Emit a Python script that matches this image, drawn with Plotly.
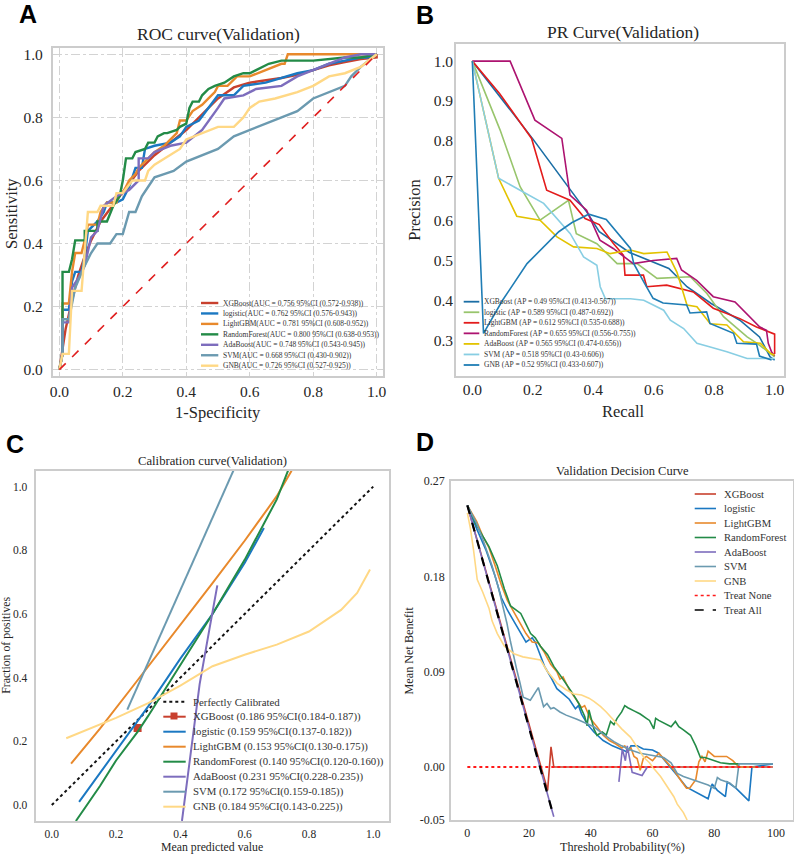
import plotly.graph_objects as go

# ---------------- data ----------------
MODELS = ["XGBoost", "logistic", "LightGBM", "RandomForest", "AdaBoost", "SVM", "GNB"]

# Panel A: ROC curves (validation)
ROC_FPR_XGB = [0, 0.01, 0.02, 0.04, 0.06, 0.08, 0.1, 0.13, 0.16, 0.2, 0.25, 0.3, 0.35, 0.4, 0.45, 0.5, 0.55, 0.6, 0.7, 0.75, 0.8, 0.85, 0.9, 0.95, 1.0, 1.0]
ROC_TPR_XGB = [0, 0.06, 0.13, 0.22, 0.3, 0.36, 0.41, 0.47, 0.51, 0.56, 0.63, 0.68, 0.72, 0.76, 0.81, 0.86, 0.895, 0.91, 0.925, 0.935, 0.95, 0.965, 0.975, 0.985, 0.99, 1.0]
ROC_FPR_LR = [0, 0.01, 0.01, 0.03, 0.04, 0.05, 0.07, 0.08, 0.09, 0.12, 0.14, 0.15, 0.18, 0.2, 0.22, 0.24, 0.26, 0.27, 0.3, 0.35, 0.38, 0.4, 0.44, 0.47, 0.5, 0.55, 0.58, 0.65, 0.72, 0.75, 0.8, 0.85, 0.9, 0.95, 0.97, 1.0]
ROC_TPR_LR = [0, 0.05, 0.19, 0.19, 0.28, 0.31, 0.31, 0.36, 0.44, 0.47, 0.5, 0.53, 0.53, 0.54, 0.58, 0.64, 0.64, 0.7, 0.71, 0.72, 0.74, 0.77, 0.79, 0.83, 0.87, 0.87, 0.9, 0.91, 0.93, 0.94, 0.95, 0.97, 0.98, 0.99, 0.99, 1.0]
ROC_FPR_LGB = [0, 0.01, 0.01, 0.03, 0.04, 0.05, 0.07, 0.08, 0.09, 0.12, 0.13, 0.15, 0.18, 0.19, 0.2, 0.22, 0.24, 0.25, 0.27, 0.3, 0.33, 0.35, 0.37, 0.38, 0.4, 0.42, 0.45, 0.47, 0.49, 0.5, 0.53, 0.56, 0.6, 0.65, 0.7, 0.71, 0.72, 0.9, 1.0]
ROC_TPR_LGB = [0, 0.05, 0.21, 0.21, 0.31, 0.37, 0.37, 0.41, 0.46, 0.46, 0.5, 0.53, 0.53, 0.56, 0.56, 0.6, 0.62, 0.64, 0.66, 0.69, 0.71, 0.73, 0.75, 0.79, 0.79, 0.82, 0.84, 0.86, 0.88, 0.9, 0.9, 0.93, 0.93, 0.95, 0.97, 0.97, 1.0, 1.0, 1.0]
ROC_FPR_RF = [0, 0.01, 0.01, 0.03, 0.04, 0.05, 0.08, 0.08, 0.12, 0.12, 0.15, 0.17, 0.19, 0.2, 0.21, 0.23, 0.24, 0.27, 0.28, 0.3, 0.31, 0.33, 0.34, 0.37, 0.38, 0.4, 0.41, 0.42, 0.44, 0.45, 0.47, 0.49, 0.52, 0.55, 0.58, 0.6, 0.62, 0.66, 0.7, 0.8, 0.9, 0.95, 1.0]
ROC_TPR_RF = [0, 0.05, 0.31, 0.31, 0.35, 0.41, 0.41, 0.44, 0.44, 0.47, 0.47, 0.52, 0.55, 0.6, 0.67, 0.67, 0.69, 0.7, 0.72, 0.72, 0.74, 0.75, 0.75, 0.76, 0.77, 0.78, 0.83, 0.85, 0.85, 0.87, 0.89, 0.9, 0.91, 0.93, 0.94, 0.94, 0.95, 0.97, 0.98, 0.98, 0.99, 0.99, 1.0]
ROC_FPR_ADA = [0, 0.01, 0.01, 0.03, 0.04, 0.06, 0.08, 0.1, 0.12, 0.14, 0.18, 0.22, 0.25, 0.25, 0.28, 0.3, 0.35, 0.4, 0.45, 0.48, 0.5, 0.52, 0.58, 0.62, 0.7, 0.75, 0.8, 0.85, 0.9, 0.95, 1.0]
ROC_TPR_ADA = [0, 0.05, 0.15, 0.15, 0.26, 0.29, 0.33, 0.42, 0.44, 0.52, 0.55, 0.57, 0.6, 0.67, 0.67, 0.69, 0.71, 0.72, 0.76, 0.8, 0.83, 0.86, 0.87, 0.89, 0.9, 0.93, 0.95, 0.97, 0.99, 1.0, 1.0]
ROC_FPR_SVM = [0, 0.01, 0.01, 0.03, 0.05, 0.08, 0.1, 0.12, 0.16, 0.18, 0.2, 0.22, 0.24, 0.26, 0.28, 0.3, 0.33, 0.36, 0.4, 0.45, 0.5, 0.55, 0.6, 0.65, 0.7, 0.75, 0.8, 0.85, 0.9, 0.92, 0.95, 1.0]
ROC_TPR_SVM = [0, 0.05, 0.16, 0.16, 0.26, 0.33, 0.37, 0.4, 0.4, 0.43, 0.43, 0.5, 0.5, 0.55, 0.58, 0.61, 0.62, 0.63, 0.66, 0.68, 0.7, 0.74, 0.76, 0.78, 0.8, 0.82, 0.86, 0.88, 0.9, 0.93, 0.96, 1.0]
ROC_FPR_GNB = [0, 0.01, 0.03, 0.04, 0.07, 0.08, 0.09, 0.12, 0.13, 0.17, 0.18, 0.2, 0.23, 0.27, 0.28, 0.3, 0.35, 0.38, 0.4, 0.45, 0.5, 0.55, 0.58, 0.6, 0.63, 0.68, 0.75, 0.8, 0.85, 0.9, 0.95, 1.0]
ROC_TPR_GNB = [0, 0.05, 0.05, 0.25, 0.25, 0.39, 0.5, 0.5, 0.52, 0.52, 0.56, 0.56, 0.6, 0.6, 0.63, 0.65, 0.68, 0.7, 0.73, 0.75, 0.77, 0.77, 0.8, 0.83, 0.85, 0.86, 0.88, 0.9, 0.93, 0.94, 0.96, 1.0]
CHANCE_X = [0, 1]
CHANCE_Y = [0, 1]
ROC_LABELS = [
    "XGBoost(AUC = 0.756 95%CI (0.572-0.938))",
    "logistic(AUC = 0.762 95%CI (0.576-0.943))",
    "LightGBM(AUC = 0.781 95%CI (0.608-0.952))",
    "RandomForest(AUC = 0.800 95%CI (0.638-0.953))",
    "AdaBoost(AUC = 0.748 95%CI (0.543-0.945))",
    "SVM(AUC = 0.668 95%CI (0.430-0.902))",
    "GNB(AUC = 0.726 95%CI (0.527-0.925))",
]

# Panel B: PR curves (validation)
PR_REC_XGB = [0, 0.2, 0.38, 0.42, 0.52, 0.65, 0.71, 0.79, 0.885, 0.95, 0.985, 1.0]
PR_PREC_XGB = [1.0, 0.805, 0.62, 0.572, 0.52, 0.48, 0.434, 0.392, 0.35, 0.308, 0.258, 0.25]
PR_REC_LR = [0, 0.092, 0.158, 0.224, 0.318, 0.344, 0.412, 0.479, 0.545, 0.611, 0.721, 0.776, 0.831, 0.909, 0.942, 0.986, 1.0]
PR_PREC_LR = [1.0, 0.827, 0.685, 0.601, 0.651, 0.567, 0.542, 0.492, 0.492, 0.455, 0.459, 0.417, 0.359, 0.308, 0.292, 0.267, 0.258]
PR_REC_LGB = [0, 0.09, 0.196, 0.246, 0.323, 0.373, 0.42, 0.466, 0.5, 0.505, 0.566, 0.577, 0.643, 0.731, 0.797, 0.885, 0.94, 0.995, 1.0, 1.0]
PR_PREC_LGB = [1.0, 0.919, 0.806, 0.676, 0.651, 0.605, 0.59, 0.543, 0.513, 0.463, 0.463, 0.434, 0.438, 0.421, 0.38, 0.354, 0.333, 0.317, 0.315, 0.265]
PR_REC_RF = [0, 0.125, 0.207, 0.296, 0.323, 0.378, 0.422, 0.466, 0.532, 0.598, 0.676, 0.692, 0.742, 0.797, 0.869, 0.907, 0.951, 0.973, 0.979, 0.99, 1.0]
PR_PREC_RF = [1.0, 1.0, 0.852, 0.806, 0.664, 0.626, 0.551, 0.53, 0.492, 0.5, 0.505, 0.476, 0.45, 0.409, 0.396, 0.367, 0.333, 0.325, 0.292, 0.27, 0.26]
PR_REC_ADA = [0, 0.087, 0.147, 0.224, 0.28, 0.335, 0.412, 0.456, 0.523, 0.567, 0.644, 0.677, 0.71, 0.743, 0.787, 0.842, 0.897, 0.953, 0.986, 1.0]
PR_PREC_ADA = [1.0, 0.706, 0.611, 0.601, 0.559, 0.534, 0.53, 0.517, 0.526, 0.517, 0.521, 0.47, 0.388, 0.384, 0.341, 0.338, 0.296, 0.292, 0.267, 0.262]
PR_REC_SVM = [0, 0.087, 0.236, 0.324, 0.368, 0.412, 0.423, 0.44, 0.523, 0.567, 0.633, 0.655, 0.699, 0.743, 0.787, 0.842, 0.909, 1.0]
PR_PREC_SVM = [1.0, 0.706, 0.643, 0.567, 0.509, 0.488, 0.434, 0.404, 0.404, 0.4, 0.375, 0.35, 0.329, 0.292, 0.283, 0.271, 0.254, 0.254]
PR_REC_GNB = [0, 0.037, 0.1, 0.181, 0.286, 0.33, 0.385, 0.443, 0.523, 0.534, 0.567, 0.598, 0.631, 0.709, 0.72, 0.775, 0.786, 0.864, 0.875, 0.94, 0.95, 0.99]
PR_PREC_GNB = [1.0, 0.317, 0.4, 0.492, 0.572, 0.595, 0.616, 0.603, 0.53, 0.492, 0.446, 0.405, 0.393, 0.388, 0.368, 0.371, 0.342, 0.317, 0.292, 0.29, 0.26, 0.25]
PR_LABELS = [
    "XGBoost (AP = 0.49 95%CI (0.413-0.567))",
    "logistic (AP = 0.589 95%CI (0.487-0.692))",
    "LightGBM (AP = 0.612 95%CI (0.535-0.688))",
    "RandomForest (AP = 0.655 95%CI (0.556-0.755))",
    "AdaBoost (AP = 0.565 95%CI (0.474-0.656))",
    "SVM (AP = 0.518 95%CI (0.43-0.606))",
    "GNB (AP = 0.52 95%CI (0.433-0.607))",
]

# Panel C: calibration curves (validation)
PERFECT_X = [0, 1]
PERFECT_Y = [0, 1]
CAL_PRED_XGB = [0.267]
CAL_FRAC_XGB = [0.242]
CAL_PRED_LR = [0.085, 0.2, 0.3, 0.4, 0.5, 0.6, 0.66]
CAL_FRAC_LR = [0.01, 0.17, 0.31, 0.46, 0.6, 0.76, 0.87]
CAL_PRED_LGB = [0.06, 0.15, 0.25, 0.35, 0.45, 0.5, 0.6, 0.7, 0.746]
CAL_FRAC_LGB = [0.13, 0.24, 0.37, 0.5, 0.63, 0.697, 0.83, 0.97, 1.05]
CAL_PRED_RF = [0.075, 0.15, 0.2, 0.267, 0.3, 0.4, 0.5, 0.6, 0.7, 0.735]
CAL_FRAC_RF = [-0.05, 0.06, 0.14, 0.23, 0.28, 0.44, 0.6, 0.77, 0.96, 1.05]
CAL_PRED_ADA = [0.405, 0.43, 0.46, 0.49, 0.515]
CAL_FRAC_ADA = [-0.05, 0.15, 0.38, 0.55, 0.69]
CAL_PRED_SVM = [0.235, 0.565]
CAL_FRAC_SVM = [0.3, 1.05]
CAL_PRED_GNB = [0.045, 0.2, 0.3, 0.4, 0.5, 0.6, 0.7, 0.8, 0.9, 0.95, 0.99]
CAL_FRAC_GNB = [0.21, 0.274, 0.32, 0.375, 0.436, 0.472, 0.504, 0.545, 0.613, 0.666, 0.74]
CAL_LABELS = [
    "Perfectly Calibrated",
    "XGBoost (0.186 95%CI(0.184-0.187))",
    "logistic (0.159 95%CI(0.137-0.182))",
    "LightGBM (0.153 95%CI(0.130-0.175))",
    "RandomForest (0.140 95%CI(0.120-0.160))",
    "AdaBoost (0.231 95%CI(0.228-0.235))",
    "SVM (0.172 95%CI(0.159-0.185))",
    "GNB (0.184 95%CI(0.143-0.225))",
]

# Panel D: decision curves (validation), threshold in %
DCA_T_XGB = [0, 26, 27.1, 28, 99]
DCA_NB_XGB = [0.247, -0.022, 0.019, 0.0, 0.0]
DCA_T_LR = [0, 3, 6, 9, 11, 13, 15, 17, 19, 20, 21, 22, 23, 25, 27, 29, 31, 33, 35, 36, 37, 39, 41, 44, 47, 50, 52, 53, 55, 57, 60, 62, 64, 66, 68, 71, 74, 78, 79.3, 81, 83.6, 84.2, 87, 89, 91.2, 92.2, 99]
DCA_NB_LR = [0.247, 0.225, 0.205, 0.18, 0.16, 0.148, 0.138, 0.128, 0.118, 0.12, 0.122, 0.118, 0.11, 0.095, 0.085, 0.074, 0.069, 0.064, 0.055, 0.058, 0.05, 0.04, 0.033, 0.025, 0.02, 0.016, 0.014, 0.02, 0.02, 0.017, 0.016, 0.013, 0.006, 0.0, -0.008, -0.019, -0.024, -0.03, -0.016, -0.022, -0.028, -0.014, -0.02, -0.026, -0.032, 0.0, 0.003]
DCA_T_LGB = [0, 3, 5, 7, 9, 11, 13, 15, 17, 19, 21, 23, 25, 27, 29, 30, 31, 33, 35, 37, 38, 40, 42, 44, 46, 48, 50, 51, 52, 53, 54, 55, 56, 57, 58, 60, 62, 63, 65, 67, 69, 71, 72, 74, 75, 76, 77, 78, 80, 82, 84, 86, 87, 88, 94]
DCA_NB_LGB = [0.247, 0.232, 0.218, 0.207, 0.19, 0.172, 0.157, 0.147, 0.136, 0.126, 0.118, 0.117, 0.108, 0.097, 0.09, 0.083, 0.085, 0.073, 0.065, 0.056, 0.058, 0.045, 0.038, 0.03, 0.025, 0.022, 0.018, 0.02, 0.015, 0.018, 0.01, 0.008, -0.003, 0.008, 0.01, 0.006, 0.013, 0.01, 0.003, -0.003, -0.012, -0.02, -0.02, -0.012, 0.005, 0.01, 0.005, 0.015, 0.01, 0.01, 0.01, 0.006, 0.003, 0.0, 0.0]
DCA_T_RF = [0, 3, 5, 7, 9.7, 12, 14, 16, 17.3, 19, 20.5, 22, 23.7, 26, 28, 30, 32.4, 34, 36.1, 38, 38.8, 39.4, 41, 42, 43.7, 45, 46.4, 47.5, 48.5, 50, 51, 52, 54, 56, 58, 59, 60.4, 61, 62, 64, 66, 67.4, 68.5, 70, 72.3, 74, 75.5, 77, 79.8, 82, 85, 88]
DCA_NB_RF = [0.247, 0.228, 0.218, 0.208, 0.19, 0.168, 0.152, 0.148, 0.145, 0.135, 0.126, 0.122, 0.114, 0.106, 0.095, 0.087, 0.077, 0.07, 0.06, 0.048, 0.039, 0.054, 0.036, 0.03, 0.033, 0.03, 0.043, 0.04, 0.046, 0.052, 0.058, 0.056, 0.053, 0.05, 0.046, 0.044, 0.036, 0.046, 0.044, 0.041, 0.038, 0.043, 0.038, 0.035, 0.03, 0.02, 0.009, 0.009, 0.006, 0.004, 0.003, 0.003]
DCA_T_ADA = [0, 28, None, 49.1, 50.2, 51.2, 51.8, 53.4, 56.6, 58.3]
DCA_NB_ADA = [0.247, -0.047, None, -0.014, 0.017, 0.006, 0.02, -0.005, -0.008, 0.0]
DCA_T_SVM = [0, 3, 5, 8, 10, 12.8, 14, 15, 16, 17, 18.1, 20.4, 21.5, 23, 24.7, 25.8, 27, 28, 30, 32, 35.5, 38, 41, 44, 47.5, 50, 52.9, 56, 60, 63.6, 66, 68, 70, 72, 74, 76, 78, 80, 81, 82, 85, 87, 88, 99]
DCA_NB_SVM = [0.247, 0.23, 0.215, 0.19, 0.17, 0.136, 0.118, 0.104, 0.092, 0.08, 0.066, 0.063, 0.068, 0.075, 0.057, 0.06, 0.055, 0.056, 0.052, 0.049, 0.045, 0.042, 0.038, 0.031, 0.024, 0.02, 0.016, 0.013, 0.011, 0.009, 0.004, -0.006, -0.009, -0.011, -0.013, -0.015, -0.017, -0.02, -0.01, -0.012, -0.015, -0.02, 0.003, 0.003]
DCA_T_GNB = [0, 1, 2, 3.2, 5, 7, 8, 9.7, 12, 15.1, 18, 20, 23.7, 26, 29.1, 32, 34.5, 37, 39.4, 41, 43.2, 45, 47.5, 50, 52.9, 55, 57.2, 59, 60, 62.6, 64, 66.9, 68, 70, 71.2]
DCA_NB_GNB = [0.24, 0.225, 0.205, 0.177, 0.165, 0.15, 0.138, 0.126, 0.114, 0.107, 0.104, 0.103, 0.101, 0.09, 0.079, 0.073, 0.069, 0.068, 0.065, 0.062, 0.057, 0.052, 0.044, 0.036, 0.028, 0.019, 0.009, 0.004, 0.0, -0.009, -0.015, -0.028, -0.035, -0.043, -0.05]
TREAT_NONE_T = [0, 99]
TREAT_NONE_NB = [0, 0]
TREAT_ALL_T = [0, 28]
TREAT_ALL_NB = [0.247, -0.047]
DCA_LABELS = MODELS + ["Treat None", "Treat All"]

# ---------------- styles ----------------
W, H = 794, 854
SERIF = "Liberation Serif, Times New Roman, serif"
SANS = "Liberation Sans, Arial, sans-serif"
TXT = "#262626"
FRAME = "#cccccc"
COL_A = ["#c8402e", "#1b78c2", "#e8892c", "#238b47", "#7d6dbd", "#6b9ab0", "#ffd885"]
COL_B = ["#1b6ea5", "#98c56c", "#e31c1c", "#ad1370", "#e3c300", "#88cee3", "#1f7db5"]


def px(x):
    return x / W


def py(y):
    return 1 - y / H


fig = go.Figure()

# Panel A traces
roc_sets = [(ROC_FPR_XGB, ROC_TPR_XGB), (ROC_FPR_LR, ROC_TPR_LR), (ROC_FPR_LGB, ROC_TPR_LGB),
            (ROC_FPR_RF, ROC_TPR_RF), (ROC_FPR_ADA, ROC_TPR_ADA), (ROC_FPR_SVM, ROC_TPR_SVM),
            (ROC_FPR_GNB, ROC_TPR_GNB)]
for (xs, ys), name, col in zip(roc_sets, MODELS, COL_A):
    fig.add_trace(go.Scatter(x=xs, y=ys, mode="lines", name=name, showlegend=False,
                             line=dict(color=col, width=2.4), xaxis="x", yaxis="y"))
fig.add_trace(go.Scatter(x=CHANCE_X, y=CHANCE_Y, mode="lines", showlegend=False,
                         line=dict(color="#e01f1f", width=1.6, dash="dash"), xaxis="x", yaxis="y"))

# Panel B traces
pr_sets = [(PR_REC_XGB, PR_PREC_XGB), (PR_REC_LR, PR_PREC_LR), (PR_REC_LGB, PR_PREC_LGB),
           (PR_REC_RF, PR_PREC_RF), (PR_REC_ADA, PR_PREC_ADA), (PR_REC_SVM, PR_PREC_SVM),
           (PR_REC_GNB, PR_PREC_GNB)]
for (xs, ys), name, col in zip(pr_sets, MODELS, COL_B):
    fig.add_trace(go.Scatter(x=xs, y=ys, mode="lines", name=name, showlegend=False,
                             line=dict(color=col, width=1.6), xaxis="x2", yaxis="y2"))

# Panel C traces
fig.add_trace(go.Scatter(x=PERFECT_X, y=PERFECT_Y, mode="lines", showlegend=False,
                         line=dict(color="#111111", width=2, dash="dot"), xaxis="x3", yaxis="y3"))
cal_sets = [(CAL_PRED_XGB, CAL_FRAC_XGB), (CAL_PRED_LR, CAL_FRAC_LR), (CAL_PRED_LGB, CAL_FRAC_LGB),
            (CAL_PRED_RF, CAL_FRAC_RF), (CAL_PRED_ADA, CAL_FRAC_ADA), (CAL_PRED_SVM, CAL_FRAC_SVM),
            (CAL_PRED_GNB, CAL_FRAC_GNB)]
for i, ((xs, ys), name, col) in enumerate(zip(cal_sets, MODELS, COL_A)):
    if i == 0:
        fig.add_trace(go.Scatter(x=xs, y=ys, mode="lines+markers", showlegend=False,
                                 marker=dict(symbol="square", size=8, color=col),
                                 line=dict(color=col, width=2), xaxis="x3", yaxis="y3"))
    else:
        fig.add_trace(go.Scatter(x=xs, y=ys, mode="lines", showlegend=False,
                                 line=dict(color=col, width=2), xaxis="x3", yaxis="y3"))

# Panel D traces
dca_sets = [(DCA_T_XGB, DCA_NB_XGB), (DCA_T_LR, DCA_NB_LR), (DCA_T_LGB, DCA_NB_LGB),
            (DCA_T_RF, DCA_NB_RF), (DCA_T_ADA, DCA_NB_ADA), (DCA_T_SVM, DCA_NB_SVM),
            (DCA_T_GNB, DCA_NB_GNB)]
for (xs, ys), name, col in zip(dca_sets, MODELS, COL_A):
    fig.add_trace(go.Scatter(x=xs, y=ys, mode="lines", showlegend=False, connectgaps=False,
                             line=dict(color=col, width=1.6), xaxis="x4", yaxis="y4"))
fig.add_trace(go.Scatter(x=TREAT_NONE_T, y=TREAT_NONE_NB, mode="lines", showlegend=False,
                         line=dict(color="#ff1a1a", width=2, dash="dot"), xaxis="x4", yaxis="y4"))
fig.add_trace(go.Scatter(x=TREAT_ALL_T, y=TREAT_ALL_NB, mode="lines", showlegend=False,
                         line=dict(color="#000000", width=2.2, dash="dash"), xaxis="x4", yaxis="y4"))

# ---------------- axes ----------------
def ax(domain, rng, tickvals, ticktext, tfs, grid, anchor, tls):
    return dict(domain=domain, range=rng, tickvals=tickvals, ticktext=ticktext,
                showgrid=grid, gridcolor="#d3d3d3", griddash="dashdot", gridwidth=1.2,
                showline=True, mirror=True, linecolor=FRAME, linewidth=2.2,
                zeroline=False, ticks="", anchor=anchor, automargin=False,
                ticklabelstandoff=tls,
                tickfont=dict(family=SERIF, size=tfs, color=TXT))

t01 = [0, 0.2, 0.4, 0.6, 0.8, 1.0]
l01 = ["0.0", "0.2", "0.4", "0.6", "0.8", "1.0"]
tpr_b = [0.3, 0.4, 0.5, 0.6, 0.7, 0.8, 0.9, 1.0]
lpr_b = ["0.3", "0.4", "0.5", "0.6", "0.7", "0.8", "0.9", "1.0"]

layout = dict(
    width=W, height=H, margin=dict(l=0, r=0, t=0, b=0),
    paper_bgcolor="white", plot_bgcolor="white", showlegend=False,
    xaxis=ax([px(53), px(383)], [-0.02, 1.02], t01, l01, 15.5, True, "y", 0),
    yaxis=ax([py(376), py(48)], [-0.02, 1.02], t01, l01, 15.5, True, "x", 5),
    xaxis2=ax([px(456.3), px(783.7)], [-0.053, 1.03], t01, l01, 15.5, False, "y2", -2),
    yaxis2=ax([py(376), py(44)], [0.21, 1.043], tpr_b, lpr_b, 15.5, False, "x2", -2),
    xaxis3=ax([px(35.7), px(389.3)], [-0.05, 1.05], t01, l01, 11.5, False, "y3", 1),
    yaxis3=ax([py(821), py(470.7)], [-0.05, 1.05], t01, l01, 11.5, False, "x3", 4),
    xaxis4=ax([px(451.3), px(793)], [-5.2, 105.5], [0, 20, 40, 60, 80, 100],
              ["0", "20", "40", "60", "80", "100"], 12, False, "y4", 0),
    yaxis4=ax([py(820), py(481)], [-0.05, 0.27], [-0.05, 0, 0.09, 0.18, 0.27],
              ["-0.05", "0.00", "0.09", "0.18", "0.27"], 12, False, "x4", 2),
)
fig.update_layout(**layout)

annotations = []
shapes = []

# panel letters
for letter, cx, cy in [("A", 27.8, 14), ("B", 425, 15), ("C", 14.5, 443.8), ("D", 424.8, 442.5)]:
    annotations.append(dict(text="<b>%s</b>" % letter, x=px(cx), y=py(cy), xref="paper", yref="paper",
                            xanchor="center", yanchor="middle", showarrow=False,
                            font=dict(family=SANS, size=25, color="#000000")))

# panel titles
for text, cx, cy, fs in [("ROC curve(Validation)", 218.3, 34.3, 17.5),
                         ("PR Curve(Validation)", 623.3, 31.7, 17.5),
                         ("Calibration curve(Validation)", 212.5, 460.7, 12.7),
                         ("Validation Decision Curve", 622.7, 471, 12.5)]:
    annotations.append(dict(text=text, x=px(cx), y=py(cy), xref="paper", yref="paper",
                            xanchor="center", yanchor="middle", showarrow=False,
                            font=dict(family=SERIF, size=fs, color=TXT)))

# axis titles
for text, cx, cy, fs, ang in [("1-Specificity", 218.3, 412.7, 16.5, 0),
                              ("Sensitivity", 11, 214, 16.5, -90),
                              ("Recall", 623.2, 411.7, 16.5, 0),
                              ("Precision", 413.7, 210, 16.5, -90),
                              ("Mean predicted value", 212.3, 846.7, 11.8, 0),
                              ("Fraction of positives", 6, 645.8, 11.8, -90),
                              ("Threshold Probability(%)", 622.3, 846.7, 12.2, 0),
                              ("Mean Net Benefit", 408.7, 650.8, 12.2, -90)]:
    annotations.append(dict(text=text, x=px(cx), y=py(cy), xref="paper", yref="paper",
                            xanchor="center", yanchor="middle", showarrow=False, textangle=ang,
                            font=dict(family=SERIF, size=fs, color=TXT)))


def legend(labels, colors, dashes, x0, x1, xt, y0, dy, fs, width):
    for i, (lab, col, dash) in enumerate(zip(labels, colors, dashes)):
        yy = y0 + i * dy
        shapes.append(dict(type="line", xref="paper", yref="paper", x0=px(x0), x1=px(x1),
                           y0=py(yy), y1=py(yy), line=dict(color=col, width=width, dash=dash)))
        annotations.append(dict(text=lab, x=px(xt - 2), y=py(yy), xref="paper", yref="paper",
                                xanchor="left", yanchor="middle", showarrow=False,
                                font=dict(family=SERIF, size=fs, color="#333333")))


legend(ROC_LABELS, COL_A, ["solid"] * 7, 201, 218.3, 222.7, 303, 10.45, 7.5, 2.4)
legend(PR_LABELS, COL_B, ["solid"] * 7, 463.7, 479.3, 484.3, 301.7, 10.55, 7.5, 1.8)
legend(CAL_LABELS, ["#111111"] + COL_A, ["dot"] + ["solid"] * 7, 163.3, 185.7, 193.3, 701.7, 15.0, 10.8, 2)
legend(DCA_LABELS, COL_A + ["#ff1a1a", "#000000"], ["solid"] * 7 + ["dot", "dash"],
       694.7, 716, 723.7, 494, 14.5, 10.6, 1.6)
# square marker on XGBoost calibration legend entry
shapes.append(dict(type="rect", xref="paper", yref="paper", x0=px(170.5), x1=px(177.5),
                   y0=py(712.5), y1=py(719.5), fillcolor=COL_A[0], line=dict(width=0)))

fig.update_layout(annotations=annotations, shapes=shapes)
fig.write_html("out.html")
